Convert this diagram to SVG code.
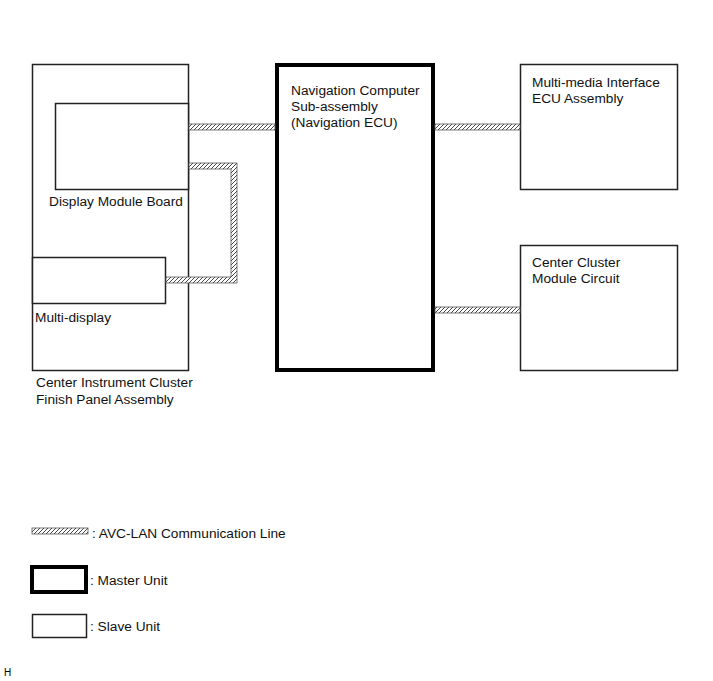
<svg xmlns="http://www.w3.org/2000/svg" width="713" height="681" viewBox="0 0 713 681">
<style>
text{font-family:"Liberation Sans",Arial,sans-serif;font-size:13.7px;fill:#111}
.box{fill:#fff;stroke:#222;stroke-width:1.5}
.master{fill:#fff;stroke:#000;stroke-width:4}
.wire{fill:url(#hatch);stroke:#555;stroke-width:0.8}
</style>
<defs>
<pattern id="hatch" patternUnits="userSpaceOnUse" width="4" height="4">
<rect width="4" height="4" fill="#fff"/>
<path d="M-1,1 L1,-1 M0,4 L4,0 M3,5 L5,3" stroke="#333" stroke-width="0.9"/>
</pattern>
</defs>
<rect width="713" height="681" fill="#fff"/>
<g id="center-instrument-cluster">
<rect class="box" x="32.5" y="64.5" width="156" height="306"/>
<text x="36" y="387">Center Instrument Cluster</text>
<text x="36" y="404">Finish Panel Assembly</text>
</g>
<g id="display-module-board">
<rect class="box" x="55.5" y="103.5" width="133" height="86"/>
<text x="49" y="206">Display Module Board</text>
</g>
<g id="multi-display">
<rect class="box" x="32.5" y="257.5" width="133" height="46"/>
<text x="35" y="322">Multi-display</text>
</g>
<g id="navigation-ecu">
<rect class="master" x="277" y="65" width="156" height="305"/>
<text x="291" y="95">Navigation Computer</text>
<text x="291" y="111">Sub-assembly</text>
<text x="291" y="127">(Navigation ECU)</text>
</g>
<g id="multimedia-interface-ecu">
<rect class="box" x="520.5" y="64.5" width="157" height="125"/>
<text x="532" y="87">Multi-media Interface</text>
<text x="532" y="103">ECU Assembly</text>
</g>
<g id="center-cluster-module">
<rect class="box" x="520.5" y="245.5" width="157" height="125"/>
<text x="532" y="267">Center Cluster</text>
<text x="532" y="283">Module Circuit</text>
</g>
<g id="connectors">
<rect class="wire" x="189" y="124" width="86" height="6"/>
<path class="wire" d="M189,163 H237 V283 H166 V277 H231 V169 H189 Z"/>
<rect class="wire" x="435" y="124" width="85" height="6"/>
<rect class="wire" x="435" y="307" width="85" height="6"/>
</g>
<g id="legend">
<rect class="wire" x="32" y="528" width="56" height="6"/>
<text x="92" y="538">: AVC-LAN Communication Line</text>
<rect class="master" x="32" y="567" width="54" height="25"/>
<text x="90" y="585">: Master Unit</text>
<rect class="box" x="32.5" y="614.5" width="54" height="23"/>
<text x="90" y="631">: Slave Unit</text>
</g>
<text x="4" y="676" style="font-size:10px;fill:#000">H</text>
</svg>
